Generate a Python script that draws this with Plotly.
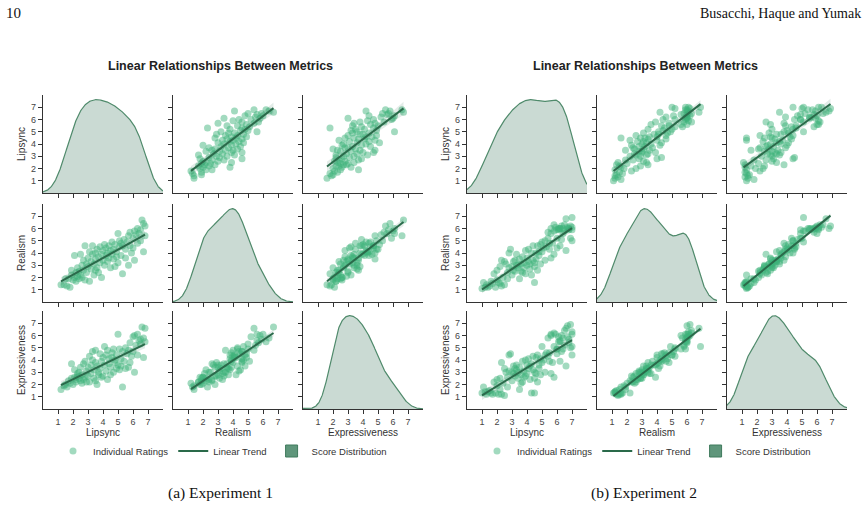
import numpy as np
import plotly.graph_objects as go

W, H = 868, 509
METRICS = ["Lipsync", "Realism", "Expressiveness"]
TICK_VALUES = [1, 2, 3, 4, 5, 6, 7]
PANEL_TITLE = "Linear Relationships Between Metrics"
CAPTIONS = ["(a) Experiment 1", "(b) Experiment 2"]
HEADER_LEFT = "10"
HEADER_RIGHT = "Busacchi, Haque and Yumak"
LEGEND_NAMES = ["Individual Ratings", "Linear Trend", "Score Distribution"]

exp1_lipsync = [1.2, 1.4, 1.5, 1.6, 1.7, 1.8, 1.9, 1.9, 2.0, 2.1, 2.1, 2.2, 2.2, 2.3, 2.3, 2.4, 2.4, 2.5, 2.5, 2.6,
                2.6, 2.7, 2.7, 2.8, 2.8, 2.9, 2.9, 3.0, 3.0, 3.1, 3.1, 3.2, 3.2, 3.3, 3.3, 3.4, 3.4, 3.5, 3.5, 3.6,
                3.6, 3.7, 3.7, 3.8, 3.8, 3.9, 3.9, 4.0, 4.0, 4.1, 4.1, 4.2, 4.2, 4.3, 4.3, 4.4, 4.4, 4.5, 4.5, 4.6,
                4.6, 4.7, 4.7, 4.8, 4.8, 4.9, 4.9, 5.0, 5.0, 5.1, 5.1, 5.2, 5.2, 5.3, 5.3, 5.4, 5.5, 5.5, 5.6, 5.7,
                5.7, 5.8, 5.8, 5.9, 6.0, 6.0, 6.1, 6.1, 6.2, 6.3, 6.3, 6.4, 6.5, 6.5, 6.6, 6.7, 6.7, 6.8, 6.8, 3.5]
exp1_realism = [1.4, 1.4, 1.9, 1.3, 1.9, 1.2, 2.2, 2.6, 1.8, 2.0, 3.8, 2.4, 1.7, 2.1, 2.8, 1.9, 2.5, 2.2, 3.9, 2.0,
                3.0, 2.6, 3.4, 1.8, 4.6, 3.1, 2.4, 3.6, 2.9, 1.7, 4.1, 3.3, 2.7, 3.9, 4.6, 3.1, 2.2, 4.0, 3.5, 2.8,
                4.3, 3.7, 2.4, 4.5, 3.2, 3.9, 2.0, 4.2, 3.4, 4.7, 3.0, 3.8, 4.4, 3.3, 4.0, 3.6, 4.6, 2.8, 4.2, 3.9,
                4.9, 3.5, 4.3, 2.9, 4.7, 3.7, 4.1, 5.6, 3.2, 4.5, 5.0, 3.8, 4.8, 2.3, 4.6, 5.1, 4.3, 3.6, 4.9, 5.4,
                3.0, 4.6, 5.7, 4.0, 5.2, 4.4, 5.8, 3.4, 5.5, 4.8, 6.0, 5.6, 5.0, 5.9, 6.7, 4.1, 6.4, 5.4, 6.2, 2.6]
exp1_expressiveness = [1.6, 1.9, 2.0, 1.8, 2.3, 2.1, 2.5, 3.7, 2.0, 2.6, 3.2, 2.4, 2.2, 2.9, 2.7, 2.5, 3.0, 2.3, 3.4, 2.1,
                       2.8, 2.4, 3.7, 2.6, 3.9, 3.1, 2.2, 3.4, 2.7, 2.2, 4.3, 2.9, 3.6, 4.0, 4.7, 2.5, 3.2, 3.8, 4.8, 2.0,
                       3.5, 2.8, 3.0, 4.5, 3.3, 3.9, 2.6, 4.2, 2.7, 5.1, 3.6, 4.4, 3.1, 2.4, 4.8, 3.7, 4.1, 3.4, 2.8, 4.6,
                       4.2, 3.0, 4.9, 3.8, 4.0, 3.3, 4.4, 6.1, 3.6, 3.2, 4.9, 4.1, 3.5, 1.8, 4.7, 3.9, 5.0, 3.3, 4.5, 4.8,
                       3.4, 3.8, 5.4, 4.3, 5.9, 4.7, 6.0, 3.0, 5.2, 4.4, 6.1, 5.6, 5.3, 5.7, 6.7, 4.2, 5.8, 6.6, 5.5, 2.3]

exp2_lipsync = [1.0, 1.1, 1.2, 1.3, 1.5, 1.6, 1.7, 1.8, 1.9, 2.0, 2.0, 2.1, 2.2, 2.2, 2.3, 2.4, 2.5, 2.5, 2.6, 2.7,
                2.7, 2.8, 2.8, 2.9, 3.0, 3.0, 3.1, 3.1, 3.2, 3.2, 3.3, 3.3, 3.4, 3.4, 3.5, 3.5, 3.6, 3.7, 3.7, 3.8,
                3.8, 3.9, 4.0, 4.0, 4.1, 4.1, 4.2, 4.2, 4.3, 4.3, 4.4, 4.4, 4.5, 4.5, 4.6, 4.6, 4.7, 4.7, 4.8, 4.8,
                4.9, 4.9, 5.0, 5.0, 5.1, 5.2, 5.2, 5.3, 5.4, 5.4, 5.5, 5.6, 5.6, 5.7, 5.8, 5.8, 5.9, 6.0, 6.0, 6.1,
                6.1, 6.2, 6.2, 6.3, 6.3, 6.4, 6.4, 6.5, 6.5, 6.6, 6.6, 6.7, 6.7, 6.8, 6.8, 6.9, 6.9, 7.0, 7.0, 7.0,
                1.4, 2.3, 3.6, 4.5, 3.9, 5.6, 6.0, 7.0, 5.8, 6.2, 5.5]
exp2_realism = [1.1, 1.6, 1.2, 1.4, 1.3, 1.7, 1.5, 2.3, 1.2, 2.6, 1.8, 1.6, 2.9, 1.5, 3.4, 2.0, 3.3, 1.4, 3.1, 2.4,
                1.9, 4.0, 2.8, 4.3, 2.9, 2.2, 3.3, 2.6, 3.4, 2.5, 3.0, 3.9, 2.8, 3.0, 1.9, 3.5, 3.1, 3.7, 2.4, 3.2,
                2.8, 4.2, 3.0, 3.6, 3.3, 4.3, 2.7, 3.1, 4.0, 2.2, 3.4, 4.6, 2.9, 3.2, 4.0, 3.5, 4.6, 2.6, 3.8, 4.1,
                3.1, 4.7, 4.1, 4.9, 4.4, 3.4, 5.0, 4.5, 5.7, 5.2, 4.3, 6.0, 3.6, 4.8, 5.8, 3.9, 6.1, 5.9, 4.4, 5.9,
                6.0, 4.6, 6.0, 5.1, 6.2, 6.0, 5.6, 6.3, 5.8, 4.2, 6.8, 6.1, 6.0, 6.0, 5.9, 6.2, 5.2, 6.9, 5.0, 6.1,
                1.2, 1.3, 2.5, 1.6, 2.3, 5.6, 5.2, 5.9, 6.3, 6.0, 4.8]
exp2_expressiveness = [1.3, 1.8, 1.4, 1.2, 1.5, 1.3, 1.2, 2.2, 1.3, 2.4, 1.9, 1.2, 2.5, 1.6, 3.8, 2.1, 3.3, 1.1, 3.0, 2.6,
                       1.8, 4.4, 3.1, 4.5, 3.0, 2.3, 3.5, 2.9, 3.3, 2.7, 3.2, 3.6, 3.0, 2.5, 1.6, 3.4, 2.8, 3.9, 2.2, 3.1,
                       2.6, 4.0, 2.9, 3.6, 3.3, 4.1, 2.4, 3.5, 3.7, 1.3, 3.2, 4.3, 2.5, 3.0, 4.2, 2.9, 4.4, 2.2, 3.6, 3.3,
                       2.8, 4.1, 3.8, 5.1, 4.0, 3.0, 4.4, 4.6, 5.8, 4.3, 3.9, 6.1, 2.9, 3.8, 5.1, 2.6, 6.1, 4.9, 4.5, 5.5,
                       5.9, 3.9, 5.6, 4.7, 6.0, 5.8, 4.9, 6.4, 5.2, 3.5, 6.6, 5.9, 6.8, 5.4, 5.7, 6.9, 5.0, 5.1, 4.4, 6.3,
                       1.4, 1.2, 2.1, 1.3, 2.7, 6.0, 4.9, 6.1, 6.2, 5.5, 4.6]

EXPERIMENTS = [
    [exp1_lipsync, exp1_realism, exp1_expressiveness],
    [exp2_lipsync, exp2_realism, exp2_expressiveness],
]

# ---- styling / layout geometry (pixels) ----
AX_RANGE = [0, 8]
PANEL_COLS = [[(43, 163), (173, 293), (303, 423)],
              [(467, 587), (597, 717), (727, 847)]]
ROWS = [(95, 193), (204, 302), (311, 409)]
PANEL_CENTER = [221, 645]

POINT_COLOR = "rgb(60,178,122)"
LINE_COLOR = "#2a6a4a"
KDE_FILL = "rgba(45,106,79,0.25)"
KDE_LINE = "#4f8a6b"
BOX_FILL = "#5f967b"
AXIS_COLOR = "#333333"
SANS = "Liberation Sans, Arial, sans-serif"
SERIF = "Liberation Serif, DejaVu Serif, serif"


def fx(px):
    return px / W


def fy(py):
    return 1 - py / H


def kde(vals, grid):
    v = np.asarray(vals, dtype=float)
    n = len(v)
    bw = v.std(ddof=1) * n ** (-1 / 5)
    d = np.exp(-0.5 * ((grid[:, None] - v[None, :]) / bw) ** 2).sum(axis=1)
    return d / (n * bw * np.sqrt(2 * np.pi))


fig = go.Figure()
layout_axes = {}

for p, data in enumerate(EXPERIMENTS):
    legend_name = "legend" if p == 0 else "legend2"
    shown = {"pts": False, "line": False}
    for i in range(3):
        for j in range(3):
            idx = p * 9 + i * 3 + j + 1
            xname = "x" if idx == 1 else f"x{idx}"
            yname = "y" if idx == 1 else f"y{idx}"
            xkey = "xaxis" if idx == 1 else f"xaxis{idx}"
            ykey = "yaxis" if idx == 1 else f"yaxis{idx}"
            c0, c1 = PANEL_COLS[p][j]
            r0, r1 = ROWS[i]
            common = dict(range=AX_RANGE, tickvals=TICK_VALUES, ticks="outside", ticklen=4,
                          tickwidth=1.1, tickcolor=AXIS_COLOR, showline=True, linecolor=AXIS_COLOR,
                          linewidth=1.3, showgrid=False, zeroline=False, fixedrange=True,
                          tickfont=dict(family=SANS, size=9, color="#444444"))
            layout_axes[xkey] = dict(common, domain=[fx(c0), fx(c1)], anchor=yname,
                                     showticklabels=(i == 2),
                                     title=dict(text=METRICS[j] if i == 2 else "", standoff=3,
                                                font=dict(family=SANS, size=10, color="#333333")))
            layout_axes[ykey] = dict(common, domain=[fy(r1), fy(r0)], anchor=xname,
                                     showticklabels=(j == 0),
                                     title=dict(text=METRICS[i] if j == 0 else "", standoff=3,
                                                font=dict(family=SANS, size=10, color="#333333")))

            if i == j:
                grid = np.linspace(-2, 10, 500)
                dens = kde(data[i], grid)
                scaled = dens / dens.max() * (AX_RANGE[1] / 1.05)
                fig.add_trace(go.Scatter(x=grid, y=scaled, mode="lines", fill="tozeroy",
                                         fillcolor=KDE_FILL, line=dict(color=KDE_LINE, width=1.2),
                                         xaxis=xname, yaxis=yname, showlegend=False, hoverinfo="skip"))
            else:
                xv = np.asarray(data[j], dtype=float)
                yv = np.asarray(data[i], dtype=float)
                fig.add_trace(go.Scatter(x=xv, y=yv, mode="markers",
                                         marker=dict(size=7, color=POINT_COLOR, opacity=0.48,
                                                     line=dict(width=0)),
                                         xaxis=xname, yaxis=yname, name=LEGEND_NAMES[0],
                                         legend=legend_name, showlegend=not shown["pts"]))
                shown["pts"] = True
                # linear fit with 95% confidence band
                b, a = np.polyfit(xv, yv, 1)
                xs = np.linspace(xv.min(), xv.max(), 60)
                ys = a + b * xs
                n = len(xv)
                resid = yv - (a + b * xv)
                s = np.sqrt((resid ** 2).sum() / (n - 2))
                sxx = ((xv - xv.mean()) ** 2).sum()
                se = s * np.sqrt(1 / n + (xs - xv.mean()) ** 2 / sxx)
                band_x = np.concatenate([xs, xs[::-1]])
                band_y = np.concatenate([ys + 1.98 * se, (ys - 1.98 * se)[::-1]])
                fig.add_trace(go.Scatter(x=band_x, y=band_y, mode="lines", fill="toself",
                                         fillcolor="rgba(42,106,74,0.13)", line=dict(width=0),
                                         xaxis=xname, yaxis=yname, showlegend=False, hoverinfo="skip"))
                fig.add_trace(go.Scatter(x=xs, y=ys, mode="lines",
                                         line=dict(color=LINE_COLOR, width=2),
                                         xaxis=xname, yaxis=yname, name=LEGEND_NAMES[1],
                                         legend=legend_name, showlegend=not shown["line"]))
                shown["line"] = True
    # legend entry for the distribution
    fig.add_trace(go.Bar(x=[None], y=[None], name=LEGEND_NAMES[2], legend=legend_name,
                         marker=dict(color=BOX_FILL, line=dict(color="#3f7a5d", width=1)),
                         xaxis="x" if p == 0 else "x10", yaxis="y" if p == 0 else "y10"))

annotations = []
for p in range(2):
    annotations.append(dict(text=f"<b>{PANEL_TITLE}</b>", x=fx(PANEL_CENTER[p]), y=fy(66),
                            xref="paper", yref="paper", xanchor="center", yanchor="middle",
                            showarrow=False, font=dict(family=SANS, size=12.5, color="#222222")))
    annotations.append(dict(text=CAPTIONS[p], x=fx(PANEL_CENTER[p] - 1), y=fy(493),
                            xref="paper", yref="paper", xanchor="center", yanchor="middle",
                            showarrow=False, font=dict(family=SERIF, size=15.5, color="#111111")))
annotations.append(dict(text=HEADER_LEFT, x=fx(4), y=fy(13), xref="paper", yref="paper",
                        xanchor="left", yanchor="middle", showarrow=False,
                        font=dict(family=SERIF, size=15, color="#111111")))
annotations.append(dict(text=HEADER_RIGHT, x=fx(863), y=fy(13), xref="paper", yref="paper",
                        xanchor="right", yanchor="middle", showarrow=False,
                        font=dict(family=SERIF, size=14, color="#111111")))

legend_common = dict(orientation="h", yanchor="middle", xanchor="left", bgcolor="rgba(0,0,0,0)",
                     font=dict(family=SANS, size=9.5, color="#333333"), itemwidth=30,
                     itemclick=False, itemdoubleclick=False)

fig.update_layout(
    width=W, height=H, margin=dict(l=0, r=0, t=0, b=0),
    paper_bgcolor="white", plot_bgcolor="white",
    annotations=annotations,
    legend=dict(legend_common, x=fx(53), y=fy(451)),
    legend2=dict(legend_common, x=fx(477), y=fy(451)),
    **layout_axes,
)

fig.write_html("out.html")
